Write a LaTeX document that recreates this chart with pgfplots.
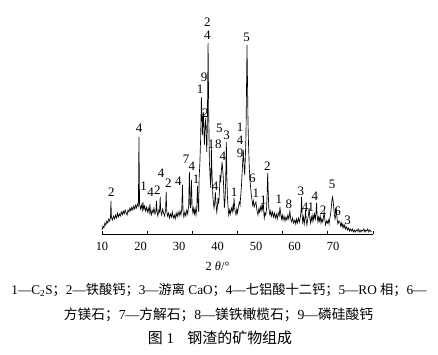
\documentclass[border=0pt]{standalone}
\usepackage{pgfplots}
\pgfplotsset{compat=1.18}
\usepackage{fontspec}
\setmainfont{Liberation Serif}
\newfontfamily\cjk{Noto Sans CJK SC}
\newcommand{\pk}{\fontsize{13}{13}\selectfont}
\begin{document}
\begin{tikzpicture}
\path[use as bounding box] (-102bp,-121bp) rectangle (336bp,234bp);
\begin{axis}[
  at={(0,0)}, anchor=south west,
  scale only axis, width=271bp, height=215bp,
  xmin=10, xmax=80.35, ymin=0, ymax=215,
  axis x line*=bottom, axis y line=none,
  clip=false,
  xtick={10,20,...,70},
  major tick length=0pt,
  extra x ticks={10,21.72,33.44,45.16,56.88,68.60,80.32},
  extra x tick labels={},
  extra x tick style={major tick length=3.5bp, tick align=inside},
  tick style={black, line width=0.5pt},
  axis line style={black, line width=0.6pt},
  /pgf/number format/assume math mode=true,
  ticklabel style={font=\fontsize{12.5}{12.5}\selectfont},
  xticklabel style={anchor=base, yshift=-16.5bp},
  xlabel={2 \textit{θ}/°},
  xlabel style={at={(axis cs:40,0)}, anchor=base, yshift=-36bp, font=\fontsize{12.5}{12.5}\selectfont},
]
\addplot[black, line width=0.65pt] coordinates {
(10.00,4) (10.25,8) (10.5,6) (10.75,11) (11.0,9) (11.25,13) (11.5,11) (11.75,15) (12.0,13) (12.2,16) (12.33,33) (12.45,17) (12.7,14) (13.0,18) (13.25,15) (13.5,19) (13.75,16) (14.0,21) (14.25,17) (14.5,20) (14.75,18) (15.0,22) (15.25,19) (15.5,23) (15.75,20) (16.0,24) (16.25,21) (16.5,19) (16.75,24) (17.0,22) (17.25,26) (17.5,23) (17.75,27) (18.0,24) (18.25,28) (18.5,25) (18.75,29) (19.0,26) (19.25,30) (19.45,28) (19.59,97) (19.75,30) (20.0,25) (20.25,29) (20.45,24) (20.62,32) (20.8,25) (21.0,28) (21.25,23) (21.5,27) (21.75,22) (22.0,26) (22.25,21) (22.44,30) (22.6,22) (22.8,19) (23.0,24) (23.25,21) (23.5,26) (23.75,20) (24.0,23) (24.15,33) (24.3,22) (24.5,18) (24.75,24) (24.95,22) (25.10,37) (25.25,23) (25.5,19) (25.75,25) (26.0,21) (26.25,18) (26.5,24) (26.66,42) (26.8,23) (27.0,18) (27.25,21) (27.5,16) (27.75,20) (28.0,17) (28.25,22) (28.5,16) (28.75,19) (29.0,15) (29.25,21) (29.5,17) (29.75,22) (30.0,18) (30.25,23) (30.5,19) (30.7,25) (30.88,49) (31.05,22) (31.25,17) (31.5,22) (31.75,18) (32.0,24) (32.25,20) (32.5,28) (32.69,62) (32.85,30) (33.0,26) (33.21,54) (33.4,27) (33.6,21) (33.8,26) (34.0,20) (34.2,25) (34.4,19) (34.6,26) (34.77,48) (34.95,30) (35.1,22) (35.21,56) (35.4,70) (35.6,95) (35.80,137) (35.95,118) (36.06,99) (36.2,115) (36.32,122) (36.45,104) (36.58,89) (36.75,108) (36.94,116) (37.05,98) (37.20,82) (37.35,110) (37.54,191) (37.7,120) (37.88,72) (38.05,58) (38.24,46) (38.39,86) (38.55,62) (38.76,39) (38.9,32) (39.09,26) (39.25,31) (39.43,42) (39.6,30) (39.79,22) (39.95,27) (40.13,36) (40.3,30) (40.5,44) (40.65,59) (40.8,52) (41.0,64) (41.17,72) (41.35,63) (41.50,56) (41.65,38) (41.76,26) (41.95,35) (42.1,52) (42.28,92) (42.4,60) (42.54,39) (42.7,28) (42.90,19) (43.1,24) (43.3,20) (43.58,26) (43.8,22) (44.0,28) (44.15,25) (44.27,36) (44.45,26) (44.6,22) (44.79,19) (45.0,25) (45.2,21) (45.4,27) (45.65,32) (45.85,29) (46.0,38) (46.2,48) (46.35,59) (46.5,70) (46.68,84) (46.85,70) (47.05,59) (47.2,75) (47.38,99) (47.5,140) (47.64,189) (47.78,150) (47.90,112) (48.05,88) (48.24,66) (48.45,52) (48.68,42) (48.9,35) (49.12,29) (49.3,33) (49.5,27) (49.75,30) (49.97,32) (50.2,24) (50.49,19) (50.7,25) (50.9,22) (51.1,27) (51.3,23) (51.53,29) (51.7,25) (51.87,31) (52.0,22) (52.12,16) (52.3,21) (52.5,19) (52.7,24) (52.85,38) (53.01,61) (53.15,42) (53.3,26) (53.45,22) (53.60,19) (53.8,23) (54.0,18) (54.25,22) (54.5,17) (54.75,21) (55.0,16) (55.25,20) (55.5,15) (55.75,21) (56.0,18) (56.19,27) (56.4,20) (56.6,15) (56.8,19) (57.0,14) (57.25,18) (57.5,13) (57.75,17) (58.0,14) (58.25,19) (58.5,15) (58.78,23) (59.0,15) (59.25,12) (59.5,16) (59.75,11) (60.08,14) (60.3,10) (60.5,15) (60.75,11) (61.0,16) (61.25,12) (61.5,17) (61.65,22) (61.81,37) (61.95,20) (62.1,12) (62.3,17) (62.5,10) (62.7,16) (62.85,24) (63.0,14) (63.2,9) (63.4,15) (63.6,19) (63.78,26) (63.95,16) (64.15,11) (64.35,17) (64.55,13) (64.75,19) (64.95,14) (65.15,20) (65.4,15) (65.55,21) (65.70,31) (65.85,18) (66.05,12) (66.25,17) (66.45,13) (66.65,18) (66.85,11) (67.05,15) (67.3,12) (67.5,17) (67.67,22) (67.85,14) (68.05,9) (68.3,13) (68.55,11) (68.75,14) (68.95,10) (69.15,16) (69.35,20) (69.55,28) (69.70,34) (69.84,37) (70.0,33) (70.15,27) (70.3,20) (70.5,15) (70.7,19) (70.88,24) (71.05,14) (71.25,10) (71.5,13) (71.74,12) (71.95,8) (72.15,11) (72.35,7) (72.55,10) (72.8,6) (73.03,9) (73.25,5) (73.5,7) (73.75,4) (74.0,6) (74.25,3) (74.5,5) (74.75,3) (75.0,5) (75.25,2) (75.5,4) (75.75,2) (76.0,4) (76.25,3) (76.5,5) (76.75,2) (77.0,4) (77.25,2) (77.5,4) (77.75,3) (78.0,5) (78.25,2) (78.5,4) (78.75,3) (79.0,5) (79.25,2) (79.5,4) (79.75,3) (80.0,2)
};
\begin{scope}[every node/.style={font=\pk, inner sep=0pt, anchor=center}]
\node at (axis cs:12.41,42) {2};
\node at (axis cs:19.66,106) {4};
\node at (axis cs:20.78,48) {1};
\node at (axis cs:22.59,42) {4};
\node at (axis cs:24.40,44) {2};
\node at (axis cs:25.36,61) {4};
\node at (axis cs:27.25,51) {2};
\node at (axis cs:29.84,53) {4};
\node at (axis cs:31.84,75) {7};
\node at (axis cs:33.32,68) {4};
\node at (axis cs:34.43,55) {1};
\node at (axis cs:35.47,145) {1};
\node at (axis cs:36.50,157) {9};
\node at (axis cs:36.84,121) {2};
\node at (axis cs:37.36,212) {2};
\node at (axis cs:37.36,199) {4};
\node at (axis cs:40.47,106) {5};
\node at (axis cs:38.32,90) {1};
\node at (axis cs:40.21,90) {8};
\node at (axis cs:42.38,99) {3};
\node at (axis cs:41.35,78) {4};
\node at (axis cs:39.35,48) {4};
\node at (axis cs:44.27,42) {1};
\node at (axis cs:45.83,107) {1};
\node at (axis cs:45.83,94) {4};
\node at (axis cs:45.83,81) {9};
\node at (axis cs:47.56,197) {5};
\node at (axis cs:49.02,56) {6};
\node at (axis cs:49.97,41) {1};
\node at (axis cs:51.87,34) {1};
\node at (axis cs:52.90,68) {2};
\node at (axis cs:55.93,35) {1};
\node at (axis cs:58.52,30) {8};
\node at (axis cs:61.63,43) {3};
\node at (axis cs:62.75,27) {4};
\node at (axis cs:64.22,27) {1};
\node at (axis cs:65.26,38) {4};
\node at (axis cs:67.41,24) {2};
\node at (axis cs:69.74,50) {5};
\node at (axis cs:71.14,23) {6};
\node at (axis cs:73.73,14) {3};
\end{scope}
\end{axis}
\begin{scope}[every node/.style={inner sep=0pt, anchor=center}]
\node[font=\fontsize{13.3}{13.3}\selectfont] at (117bp,-56bp) {1—C\textsubscript{2}S{\cjk ；}2—{\cjk 铁酸钙；}3—{\cjk 游离} CaO{\cjk ；}4—{\cjk 七铝酸十二钙；}5—RO {\cjk 相；}6—};
\node[font=\fontsize{13.8}{13.8}\selectfont] at (116.5bp,-81bp) {{\cjk 方镁石；}7—{\cjk 方解石；}8—{\cjk 镁铁橄榄石；}9—{\cjk 磷硅酸钙}};
\node[font=\fontsize{15}{15}\selectfont] at (118bp,-104bp) {{\cjk 图} 1\hspace{0.9em}{\cjk 钢渣的矿物组成}};
\end{scope}
\end{tikzpicture}
\end{document}
